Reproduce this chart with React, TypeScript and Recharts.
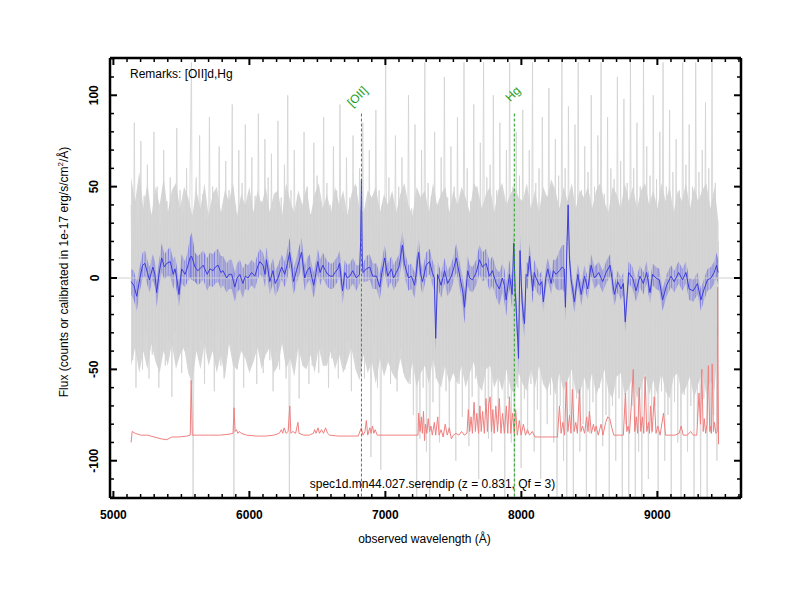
import { Area, ComposedChart, Label, LabelList, Line, ReferenceLine, XAxis, YAxis } from "recharts";

const FONT = '"Liberation Sans", Arial, Helvetica, sans-serif';

// plot frame
const X_MIN = 4975;
const X_MAX = 9615;
const Y_MIN = -120.4;
const Y_MAX = 120.4;
const X_TICKS = Array.from({ length: 47 }, (_, i) => 5000 + i * 100); // every 100 A, labelled every 1000
const Y_TICKS = Array.from({ length: 25 }, (_, i) => -120 + i * 10); // every 10, labelled every 50

// raw flux (grey), sampled every 12 A from 5130 A
const GRAY_START = 5130;
const GRAY_STEP = 12;
const grayFlux = [
  40, -45, 85, -60, 30, -38, 75, -50, 45, -30, 62, -55, 36, -42, 80, -35, 50, -60, 28, -40,
  70, -48, 42, -35, 55, -65, 38, -30, 82, -44, 48, -52, 35, -40, 60, -38, 45, 118, -122, 40,
  55, -40, 78, -35, 46, -58, 32, -44, 88, -38, 50, -62, 40, -30, 72, -48, 36, -55, 64, -42,
  48, -36, 95, -122, 40, -50, 70, -38, 52, -60, 84, -42, 38, -48, 66, -35, 45, -58, 90, -40,
  42, -52, 76, -36, 55, -45, 68, -62, 38, -40, 86, -50, 44, -35, 62, -55, 100, -122, 48, -46,
  70, -40, 45, -66, 38, -42, 80, -36, 50, -58, 35, -48, 74, -40, 56, -52, 42, -38, 88, -45,
  52, -60, 40, -44, 72, -38, 48, -55, 95, -42, 36, -50, 66, -35, 44, -62, 78, -40, 50, -48,
  60, -42, 85, -55, 38, -45, 70, -98, 44, -36, 92, -60, 48, -105, 40, -50, 118, -44, 55, -58,
  46, -40, 78, -62, 50, -38, 66, -52, 42, -46, 100, -58, 38, -75, 84, -122, 46, -88, 70, -60,
  118, -95, 52, -122, 45, -68, 80, -55, 40, -90, 66, -48, 110, -62, 44, -85, 72, -52, 50, -100,
  88, -58, 46, -76, 118, -50, 60, -92, 42, -65, 95, -55, 50, -110, 74, -48, 118, -70, 55, -88,
  62, -95, 100, -55, 48, -80, 85, -60, 44, -122, 70, -66, 118, -90, 50, -122, 80, -60, 56, -104,
  92, -66, 48, -85, 70, -58, 118, -95, 52, -72, 60, -110, 88, -55, 45, -80, 104, -64, 50, -90,
  76, -122, 56, -70, 118, -100, 60, -122, 94, -75, 50, -122, 84, -66, 118, -95, 48, -80, 72, -122,
  58, -85, 100, -68, 50, -122, 78, -60, 118, -92, 46, -75, 88, -122, 60, -70, 54, -100, 110, -66,
  64, -122, 98, -80, 52, -122, 118, -70, 60, -122, 85, -95, 50, -122, 118, -66, 72, -110, 56, -85,
  100, -70, 54, -122, 80, -62, 118, -100, 50, -75, 92, -122, 58, -68, 76, -90, 48, -122, 118, -64,
  62, -95, 84, -70, 50, -122, 118, -80, 58, -122, 70, -66, 96, -122, 60, -85, 118, -75, 52, -100,
  20,
];

// dense part of the raw flux (grey band), every 30 A from 5130 A
const CORE_STEP = 30;
const coreHi = [
  55, 42, 58, 38, 52, 34, 50, 40, 55, 36, 48, 52, 38, 50, 44, 34,
  48, 38, 52, 34, 46, 50, 36, 48, 42, 52, 34, 46, 40, 50, 36, 48,
  40, 50, 36, 46, 48, 34, 52, 42, 36, 48, 40, 50, 34, 46, 52, 38,
  46, 36, 50, 40, 48, 34, 46, 52, 38, 36, 48, 44, 50, 36, 46, 40,
  48, 36, 46, 52, 40, 34, 50, 44, 48, 36, 52, 40, 46, 50, 36, 48,
  40, 50, 44, 36, 52, 48, 38, 46, 50, 36, 48, 52, 40, 46, 50, 44,
  42, 52, 38, 48, 36, 50, 44, 54, 48, 38, 50, 42, 52, 38, 48, 44,
  50, 38, 48, 52, 42, 36, 50, 46, 38, 52, 42, 50, 38, 48, 52, 40,
  48, 38, 52, 42, 50, 36, 48, 42, 52, 38, 50, 42, 48, 52, 38, 50,
  30,
];
const coreLo = [
  -48, -38, -52, -40, -50, -36, -46, -52, -40, -48, -36, -50, -42, -38, -52, -58,
  -40, -50, -36, -48, -40, -52, -42, -55, -36, -48, -50, -40, -44, -52, -46, -38,
  -50, -42, -38, -52, -48, -36, -50, -44, -54, -38, -48, -50, -42, -52, -38, -48,
  -48, -40, -50, -42, -52, -46, -38, -50, -56, -42, -52, -46, -58, -44, -54, -46,
  -52, -56, -44, -54, -58, -46, -60, -52, -48, -58, -44, -56, -60, -48, -58, -52,
  -58, -48, -60, -52, -46, -58, -62, -50, -48, -60, -54, -62, -50, -60, -64, -52,
  -58, -62, -50, -60, -48, -58, -62, -54, -64, -52, -62, -56, -50, -62, -64, -54,
  -62, -52, -64, -58, -50, -62, -66, -54, -52, -64, -60, -54, -66, -60, -52, -64,
  -56, -64, -52, -62, -66, -54, -52, -64, -60, -54, -66, -58, -52, -64, -56, -62,
  -30,
];

// smoothed flux (blue) and its 1-sigma half width
const blueWave = [
  5130, 5150, 5172, 5195, 5215, 5232, 5250, 5265, 5290, 5305, 5318, 5335, 5355, 5375, 5392, 5418,
  5440, 5453, 5470, 5482, 5502, 5527, 5545, 5563, 5575, 5600, 5620, 5636, 5660, 5690, 5710, 5733,
  5750, 5770, 5790, 5806, 5833, 5850, 5870, 5893, 5910, 5930, 5952, 5970, 5990, 6016, 6040, 6060,
  6077, 6100, 6115, 6126, 6150, 6173, 6190, 6210, 6237, 6260, 6280, 6296, 6325, 6346, 6365, 6383,
  6407, 6425, 6444, 6460, 6473, 6490, 6503, 6520, 6540, 6560, 6576, 6595, 6613, 6630, 6650, 6663,
  6685, 6702, 6720, 6738, 6760, 6787, 6810, 6818, 6824, 6830, 6836, 6860, 6885, 6907, 6935, 6958,
  6975, 6995, 7017, 7030, 7045, 7060, 7080, 7100, 7125, 7140, 7154, 7170, 7191, 7215, 7230, 7245,
  7260, 7273, 7300, 7325, 7345, 7360, 7370, 7384, 7397, 7410, 7435, 7458, 7485, 7505, 7521, 7550,
  7570, 7582, 7605, 7620, 7641, 7668, 7692, 7714, 7741, 7765, 7787, 7815, 7838, 7860, 7875, 7888,
  7912, 7932, 7944, 7955, 7968, 7979, 7990, 8005, 8015, 8023, 8035, 8047, 8060, 8083, 8095, 8108,
  8133, 8150, 8162, 8180, 8194, 8219, 8235, 8255, 8280, 8300, 8315, 8324, 8336, 8344, 8354, 8366,
  8390, 8415, 8440, 8464, 8488, 8513, 8537, 8569, 8598, 8623, 8652, 8684, 8708, 8733, 8750, 8764,
  8789, 8818, 8843, 8872, 8897, 8921, 8946, 8965, 8990, 9014, 9038, 9068, 9100, 9124, 9156, 9185,
  9210, 9234, 9264, 9295, 9320, 9344, 9369, 9394, 9418, 9435, 9447,
];
const blueFlux = [
  -2, -4, -10, 0, 7, 8, 3, -1, 6, 2, -8, 2, 11, 6, 8, 9,
  2, 5, -2, -9, 5, 2, 6, 11, 12, 6, 4, 5, 7, 2, 5, 4,
  6, 7, 3, 4, 0, 2, 2, -5, 0, 2, -3, 1, 0, 3, 1, 6,
  9, 7, 2, 10, -2, 4, -3, 0, 6, 2, 8, 14, -2, 4, 9, 14,
  0, 4, 6, 0, -4, 3, 9, 3, 7, 4, 2, 1, 1, 3, 5, 8,
  -7, 3, 0, 1, 4, 0, 2, 20, 54, 10, 3, 5, 6, 1, 1, -5,
  3, 11, 1, 3, 5, 0, 3, 6, 18, 8, 4, 0, 1, -4, 5, 14,
  2, -2, 7, 9, 3, 0, -33, 2, -1, -4, 4, -3, 1, 6, 11, 0,
  -8, -16, 4, 0, -1, 3, 10, 6, 8, 1, 4, -3, -6, 0, -4, -12,
  2, -9, 19, -8, -25, -44, 15, -13, -20, -25, 2, 1, 12, -7, 3, 0,
  -4, -2, -13, 0, 5, -3, 4, 2, 4, 6, 5, -16, 20, 40, 10, -1,
  -13, 2, -9, 1, -6, 7, 0, 3, -2, 3, 7, -9, -2, -6, -3, -24,
  3, 0, -7, 1, -3, 3, -8, 2, 0, -1, -12, -4, 1, -2, 3, -1,
  3, -6, -7, -3, -12, -6, -1, 0, 3, 7, 3,
];
const blueErr = [
  7, 8, 8, 7, 7, 7, 7, 7, 7, 7, 8, 7, 8, 7, 7, 8,
  8, 7, 7, 7, 8, 7, 8, 11, 13, 8, 8, 8, 8, 9, 9, 9,
  9, 9, 9, 8, 8, 8, 8, 8, 8, 8, 8, 7, 7, 7, 7, 7,
  7, 7, 7, 7, 7, 7, 7, 7, 7, 7, 8, 8, 7, 7, 8, 8,
  7, 7, 7, 7, 7, 7, 7, 7, 7, 7, 7, 7, 7, 7, 7, 7,
  7, 7, 7, 7, 7, 7, 5, 5, 5, 5, 5, 7, 7, 7, 7, 7,
  7, 7, 7, 7, 7, 7, 7, 7, 8, 7, 7, 7, 7, 7, 7, 8,
  7, 7, 7, 7, 7, 7, 7, 7, 7, 7, 7, 7, 7, 7, 8, 7,
  8, 9, 8, 7, 7, 7, 8, 8, 8, 8, 8, 8, 9, 8, 9, 9,
  8, 8, 7, 8, 8, 8, 8, 8, 8, 8, 7, 7, 7, 7, 7, 7,
  6, 6, 6, 6, 6, 6, 6, 8, 11, 12, 13, 8, 6, 6, 6, 6,
  6, 6, 6, 6, 6, 6, 6, 6, 6, 6, 6, 6, 6, 6, 6, 6,
  6, 6, 6, 6, 6, 6, 6, 6, 6, 6, 6, 6, 6, 6, 6, 6,
  6, 6, 6, 6, 6, 6, 6, 6, 6, 7, 7,
];

// sky / noise spectrum (red)
const redWave = [
  5130, 5138, 5160, 5200, 5250, 5300, 5350, 5392, 5430, 5480, 5540, 5565, 5572, 5580, 5620, 5700,
  5780, 5850, 5880, 5887, 5895, 5905, 5915, 5925, 5940, 5980, 6050, 6120, 6180, 6220, 6235, 6245,
  6255, 6270, 6285, 6297, 6305, 6320, 6340, 6357, 6365, 6400, 6440, 6470, 6480, 6490, 6505, 6515,
  6530, 6545, 6560, 6575, 6590, 6650, 6720, 6800, 6823, 6835, 6850, 6860, 6870, 6885, 6895, 6905,
  6915, 6925, 6940, 7000, 7100, 7200, 7240, 7245, 7255, 7265, 7272, 7280, 7288, 7295, 7305, 7315,
  7325, 7335, 7345, 7360, 7370, 7385, 7395, 7410, 7425, 7440, 7455, 7470, 7485, 7500, 7520, 7540,
  7560, 7580, 7600, 7610, 7620, 7630, 7640, 7652, 7662, 7672, 7685, 7695, 7705, 7715, 7728, 7740,
  7750, 7760, 7770, 7780, 7790, 7800, 7812, 7825, 7838, 7850, 7862, 7875, 7890, 7900, 7912, 7922,
  7935, 7948, 7958, 7970, 7985, 7998, 8015, 8030, 8045, 8060, 8080, 8100, 8150, 8200, 8265, 8280,
  8292, 8305, 8318, 8330, 8342, 8355, 8365, 8375, 8388, 8400, 8412, 8427, 8438, 8450, 8465, 8480,
  8490, 8500, 8515, 8530, 8540, 8550, 8565, 8586, 8600, 8620, 8635, 8650, 8665, 8680, 8720, 8750,
  8765, 8775, 8785, 8795, 8808, 8823, 8834, 8845, 8855, 8867, 8878, 8890, 8900, 8910, 8922, 8935,
  8942, 8950, 8962, 8977, 8990, 9003, 9020, 9045, 9060, 9100, 9130, 9160, 9175, 9190, 9220, 9245,
  9265, 9290, 9306, 9317, 9327, 9337, 9345, 9355, 9365, 9375, 9385, 9393, 9398, 9403, 9412, 9420,
  9430, 9440, 9443, 9450,
];
const redFlux = [
  -90, -84, -85, -86, -86, -87, -88, -88.5, -87, -87, -86.5, -86, -56, -86, -86, -86,
  -86, -85.5, -85, -71, -84, -83, -85, -84, -85, -86, -86.5, -86.5, -86, -85, -83, -85,
  -82, -85, -84, -70, -85, -84, -85, -79, -85, -86, -86, -85, -83, -85, -82, -85,
  -83, -85, -82, -85, -86, -86.5, -86.5, -86.5, -82, -86, -84, -78, -86, -82, -85, -81,
  -85, -83, -86, -86, -86, -86, -86, -74, -84, -76, -85, -73, -89, -80, -85, -77,
  -84, -81, -86, -79, -86, -76, -86, -83, -87, -80, -86, -82, -88, -86, -85, -86,
  -84, -86, -85, -72, -84, -76, -85, -68, -84, -74, -85, -70, -84, -73, -85, -66,
  -84, -69, -65, -84, -72, -85, -70, -84, -66, -85, -74, -85, -70, -85, -65, -85,
  -74, -85, -72, -86, -78, -86, -80, -86, -83, -86, -84, -87, -87, -87, -87, -70,
  -85, -79, -86, -57, -84, -75, -85, -61, -84, -79, -85, -61, -84, -81, -85, -76,
  -84, -73, -85, -80, -84, -81, -86, -80, -86, -79, -76, -77, -82, -86, -86, -86,
  -63, -84, -81, -85, -70, -50, -84, -76, -85, -60, -84, -76, -85, -54, -84, -79,
  -85, -70, -84, -65, -85, -81, -86, -74, -86, -86, -86, -85, -81, -86, -86, -84,
  -86, -86, -63, -80, -50, -84, -77, -85, -80, -48, -84, -81, -85, -47, -84, -79,
  -85, -84, -5, -91,
];

// identified lines
const lineLabels = ["Hg", "[OII]"];
const lineWaves = [7948, 6824];
const lineTops = [90, 90];

const grayData = grayFlux.map((f, i) => ({ w: GRAY_START + i * GRAY_STEP, f }));
const coreData = coreHi.map((hi, i) => ({ w: GRAY_START + i * CORE_STEP, band: [coreLo[i], hi] }));
const blueData = blueWave.map((w, i) => ({
  w,
  f: blueFlux[i],
  band: [blueFlux[i] - blueErr[i], blueFlux[i] + blueErr[i]],
}));
const redData = redWave.map((w, i) => ({ w, f: redFlux[i] }));
const markData = lineWaves.map((w, i) => [
  { w, f: lineTops[i], tag: lineLabels[i] },
  { w, f: Y_MIN, tag: "" },
]);

// ticks point into the plot; labels only on bottom/left majors
function FrameTick(props: any) {
  const { x, y, payload, side } = props;
  const v = Number(payload?.value);
  const horiz = side === "bottom" || side === "top";
  const major = horiz ? v % 1000 === 0 : v % 50 === 0;
  const len = major ? 7 : 4;
  let tick;
  if (side === "bottom") tick = <line x1={x} x2={x} y1={y} y2={y - len} />;
  else if (side === "top") tick = <line x1={x} x2={x} y1={y} y2={y + len} />;
  else if (side === "left") tick = <line x1={x} x2={x + len} y1={y} y2={y} />;
  else tick = <line x1={x} x2={x - len} y1={y} y2={y} />;
  const lx = x - 11.5;
  return (
    <g>
      <g stroke="#000" strokeWidth={major ? 2 : 1.5}>{tick}</g>
      {major && side === "bottom" && (
        <text x={x} y={y + 20.5} textAnchor="middle" fontSize={12} fontWeight="bold" fill="#000">
          {v}
        </text>
      )}
      {major && side === "left" && (
        <text x={lx} y={y} transform={`rotate(-90 ${lx} ${y})`} textAnchor="middle" fontSize={12} fontWeight="bold" fill="#000">
          {v}
        </text>
      )}
    </g>
  );
}

function XTitle({ viewBox }: any) {
  const { x, y, width } = viewBox;
  return (
    <text x={x + width / 2 - 1} y={y + 44.7} textAnchor="middle" fontSize={12} fill="#000">
      observed wavelength (Å)
    </text>
  );
}

function SpecName({ viewBox }: any) {
  const { x, y, width } = viewBox;
  return (
    <text x={x + width / 2 + 7} y={y - 10} textAnchor="middle" fontSize={12} fill="#000">
      spec1d.mn44.027.serendip (z = 0.831, Qf = 3)
    </text>
  );
}

function Remarks({ viewBox }: any) {
  const { x, y, height } = viewBox;
  return (
    <text x={x + 20} y={y + height + 19.5} fontSize={12} fill="#000">
      Remarks: [OII]d,Hg
    </text>
  );
}

function YTitle({ viewBox }: any) {
  const { x, y, width, height } = viewBox;
  const cx = x + width - 42.3;
  const cy = y + height / 2 - 6;
  return (
    <text x={cx} y={cy} transform={`rotate(-90 ${cx} ${cy})`} textAnchor="middle" fontSize={12} fill="#000">
      Flux (counts or calibrated in 1e-17 erg/s/cm
      <tspan dy={-5} fontSize={8}>2</tspan>
      <tspan dy={5}>/Å)</tspan>
    </text>
  );
}

// line name, written at 45 degrees and ending just above the top of its marker
function LineTag(props: any) {
  const { value } = props;
  if (!value) return null;
  const px = Number(props.x ?? props.viewBox?.x);
  const py = Number(props.y ?? props.viewBox?.y);
  const cx = px + 4;
  const cy = py - 25;
  return (
    <text
      x={cx}
      y={cy}
      transform={`rotate(-45 ${cx} ${cy})`}
      textAnchor="end"
      dominantBaseline="central"
      fontSize={12}
      fill="#1f9e1f"
    >
      {value}
    </text>
  );
}

const axisLine = { stroke: "#000", strokeWidth: 2.5 };
const AXIS_PAD = 30;

export default function App() {
  return (
    <div style={{ position: "absolute", left: 0, top: 0, width: 800, height: 600, background: "#fff", fontFamily: FONT }}>
      <ComposedChart
        width={800}
        height={600}
        margin={{ top: 58 - AXIS_PAD, right: 59 - AXIS_PAD, bottom: 102 - AXIS_PAD, left: 110 - AXIS_PAD }}
      >
        <XAxis
          xAxisId="b"
          dataKey="w"
          type="number"
          orientation="bottom"
          domain={[X_MIN, X_MAX]}
          allowDataOverflow
          ticks={X_TICKS}
          interval={0}
          height={AXIS_PAD}
          tickSize={0}
          tickMargin={0}
          tickLine={false}
          axisLine={axisLine}
          tick={<FrameTick side="bottom" />}
        >
          <Label content={<XTitle />} />
          <Label content={<SpecName />} />
        </XAxis>
        <XAxis
          xAxisId="t"
          dataKey="w"
          type="number"
          orientation="top"
          domain={[X_MIN, X_MAX]}
          allowDataOverflow
          ticks={X_TICKS}
          interval={0}
          height={AXIS_PAD}
          tickSize={0}
          tickMargin={0}
          tickLine={false}
          axisLine={axisLine}
          tick={<FrameTick side="top" />}
        >
          <Label content={<Remarks />} />
        </XAxis>
        <YAxis
          yAxisId="l"
          type="number"
          orientation="left"
          domain={[Y_MIN, Y_MAX]}
          allowDataOverflow
          ticks={Y_TICKS}
          interval={0}
          width={AXIS_PAD}
          tickSize={0}
          tickMargin={0}
          tickLine={false}
          axisLine={axisLine}
          tick={<FrameTick side="left" />}
        >
          <Label content={<YTitle />} />
        </YAxis>
        <YAxis
          yAxisId="r"
          type="number"
          orientation="right"
          domain={[Y_MIN, Y_MAX]}
          allowDataOverflow
          ticks={Y_TICKS}
          interval={0}
          width={AXIS_PAD}
          tickSize={0}
          tickMargin={0}
          tickLine={false}
          axisLine={axisLine}
          tick={<FrameTick side="right" />}
        />

        <ReferenceLine xAxisId="b" yAxisId="l" y={0} stroke="#d0d0d0" strokeWidth={1} />

        <Area
          xAxisId="b"
          yAxisId="l"
          data={coreData}
          dataKey="band"
          type="linear"
          stroke="none"
          fill="#d6d6d6"
          fillOpacity={1}
          dot={false}
          activeDot={false}
          isAnimationActive={false}
        />
        <Line
          xAxisId="b"
          yAxisId="l"
          data={grayData}
          dataKey="f"
          type="linear"
          stroke="#d2d2d2"
          strokeWidth={0.8}
          dot={false}
          activeDot={false}
          isAnimationActive={false}
        />
        <Line
          xAxisId="b"
          yAxisId="l"
          data={redData}
          dataKey="f"
          type="linear"
          stroke="#f08080"
          strokeWidth={1}
          dot={false}
          activeDot={false}
          isAnimationActive={false}
        />
        <Area
          xAxisId="b"
          yAxisId="l"
          data={blueData}
          dataKey="band"
          type="linear"
          stroke="none"
          fill="#8080e2"
          fillOpacity={1}
          dot={false}
          activeDot={false}
          isAnimationActive={false}
        />
        <Line
          xAxisId="b"
          yAxisId="l"
          data={blueData}
          dataKey="f"
          type="linear"
          stroke="#3c3cdc"
          strokeWidth={1}
          dot={false}
          activeDot={false}
          isAnimationActive={false}
        />

        {markData.map((d, i) => (
          <Line
            key={lineLabels[i]}
            xAxisId="b"
            yAxisId="l"
            data={d}
            dataKey="f"
            type="linear"
            stroke="#22a022"
            strokeWidth={1}
            strokeDasharray="3 2"
            dot={false}
            activeDot={false}
            isAnimationActive={false}
          >
            <LabelList dataKey="tag" content={<LineTag />} />
          </Line>
        ))}
      </ComposedChart>
    </div>
  );
}
